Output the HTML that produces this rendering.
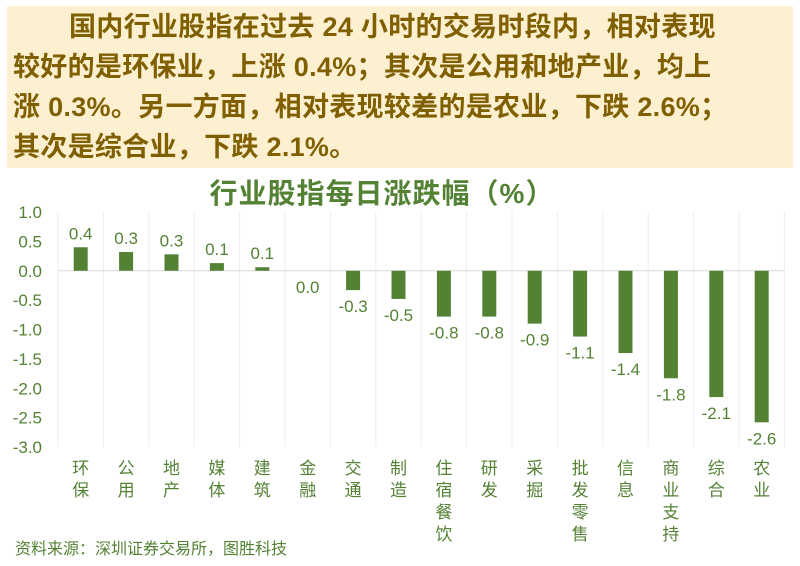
<!DOCTYPE html>
<html><head><meta charset="utf-8"><style>
body{margin:0;width:800px;height:566px;background:#fff;overflow:hidden;font-family:"Liberation Sans","Noto Sans CJK SC",sans-serif;}
#hdr{position:absolute;left:7px;top:6px;width:786px;height:162px;background:#fdf0d0;}
#hdr p{margin:0;padding:1px 0 0 6px;font-size:27px;line-height:40px;font-weight:bold;color:#7f5f00;white-space:nowrap;letter-spacing:0.3px;}
#title{position:absolute;left:0;width:764px;top:172px;text-align:center;font-size:28px;font-weight:bold;color:#548235;letter-spacing:1px;}
#src{position:absolute;left:15px;top:535px;font-size:16px;color:#548235;}
</style></head><body>
<div id="hdr"><p><span style="padding-left:56px"></span>国内行业股指在过去 24 小时的交易时段内，相对表现<br>较好的是环保业，上涨 0.4%；其次是公用和地产业，均上<br>涨 0.3%。另一方面，相对表现较差的是农业，下跌 2.6%；<br>其次是综合业，下跌 2.1%。</p></div>
<div id="title">行业股指每日涨跌幅（%）</div>
<svg id="chart" width="800" height="566" style="position:absolute;left:0;top:0"></svg>
<div id="src">资料来源：深圳证券交易所，图胜科技</div>
<script>
const categories=["环保","公用","地产","媒体","建筑","金融","交通","制造","住宿餐饮","研发","采掘","批发零售","信息","商业支持","综合","农业"];
const values=[0.4,0.32,0.28,0.13,0.06,0.0,-0.33,-0.48,-0.78,-0.78,-0.9,-1.12,-1.4,-1.83,-2.15,-2.58];
const labels=["0.4","0.3","0.3","0.1","0.1","0.0","-0.3","-0.5","-0.8","-0.8","-0.9","-1.1","-1.4","-1.8","-2.1","-2.6"];
const ticks=[1.0,0.5,0.0,-0.5,-1.0,-1.5,-2.0,-2.5,-3.0];
const svg=document.getElementById('chart');const NS='http://www.w3.org/2000/svg';
const x0=58,bw=45.4,yTop=212,yBot=447,vMax=1,vMin=-3;
const y=v=>yTop+(vMax-v)/(vMax-vMin)*(yBot-yTop);
const xc=i=>x0+bw*(i+0.5);
function mk(t,a){const e=document.createElementNS(NS,t);for(const k in a)e.setAttribute(k,a[k]);svg.appendChild(e);return e;}
for(let i=0;i<=categories.length;i++){const g=mk('line',{x1:x0+bw*i,x2:x0+bw*i,y1:yTop,y2:yBot,stroke:'#eeeeee'});

}
const z=mk('line',{x1:x0,x2:x0+bw*categories.length,y1:y(0),y2:y(0),stroke:'#d9d9d9'});


ticks.forEach(t=>{const e=mk('text',{x:42,y:y(t)+6,'text-anchor':'end','font-size':17,fill:'#548235'});e.textContent=t.toFixed(1);

});
categories.forEach((c,i)=>{const v=values[i];const top=Math.min(y(v),y(0)),h=Math.abs(y(v)-y(0));
const r=mk('rect',{x:xc(i)-7,y:top,width:14,height:h,fill:'#548235'});


const ly=v>0?y(v)-8:(v===0?y(0)+22:y(v)+22);
const t=mk('text',{x:xc(i),y:ly,'text-anchor':'middle','font-size':17,fill:'#548235'});t.textContent=labels[i];


[...c].forEach((ch,j)=>{const e=mk('text',{x:xc(i),y:474+j*22,'text-anchor':'middle','font-size':17,fill:'#548235'});e.textContent=ch;

});});
</script>
</body></html>
